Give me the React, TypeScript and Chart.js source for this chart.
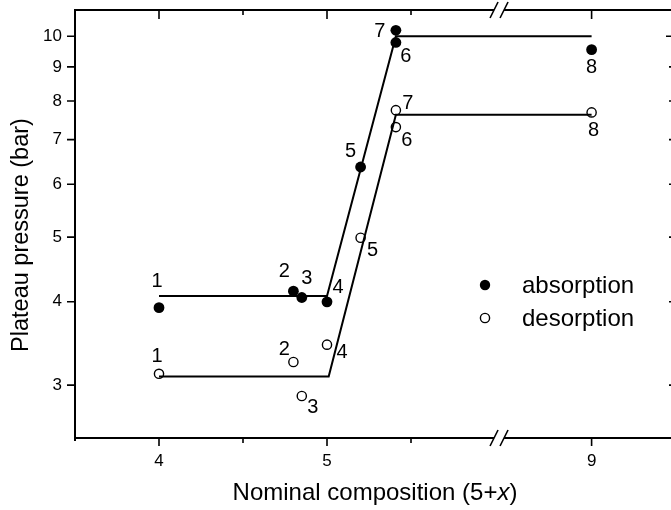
import React, { useEffect, useRef } from "react";
import { Chart, registerables } from "chart.js";

Chart.register(...registerables);

// ---------- data ----------
const SAMPLE_IDS = ["1", "2", "3", "4", "5", "6", "7", "8"];

const ABS_COMPOSITION = [4, 4.8, 4.85, 5.0, 5.2, 5.41, 5.41, 9];
const ABS_PRESSURE = [3.92, 4.15, 4.06, 4.0, 6.37, 9.79, 10.21, 9.55];

const DES_COMPOSITION = [4, 4.8, 4.85, 5.0, 5.2, 5.41, 5.41, 9];
const DES_PRESSURE = [3.12, 3.25, 2.89, 3.45, 4.99, 7.31, 7.75, 7.69];

const ABS_FIT_X = [4, 5.0, 5.41, 9];
const ABS_FIT_Y = [4.08, 4.08, 10.0, 10.0];
const DES_FIT_X = [4, 5.01, 5.41, 9];
const DES_FIT_Y = [3.09, 3.09, 7.63, 7.63];

const X_MAJOR_TICKS = [4, 5, 9];
const X_MINOR_TICKS = [4.5, 5.5];
const Y_TICKS = [3, 4, 5, 6, 7, 8, 9, 10];

const SERIES_LABELS = ["absorption", "desorption"];
const X_TITLE_PARTS = ["Nominal composition (5+", "x", ")"];
const Y_TITLE = "Plateau pressure (bar)";

// ---------- broken x axis ----------
const BREAK_LOW = 6.024; // real value at the break, left side
const BREAK_HIGH = 8.449; // real value at the break, right side
const SHIFT = BREAK_HIGH - BREAK_LOW;
const toAxis = (v: number) => (v >= BREAK_HIGH ? v - SHIFT : v);
const fromAxis = (v: number) => (v > BREAK_LOW + 1e-6 ? v + SHIFT : v);

// ---------- label layout (pixel offsets from each point) ----------
const ABS_LABEL_OFFSETS = [
  [-2, -26], [-9, -20], [5, -19], [11, -14], [-10, -15], [10, 14], [-16, 1], [0, 18],
];
const DES_LABEL_OFFSETS = [
  [-2, -17], [-9, -12], [11, 11], [15, 8], [12, 13], [11, 13], [12, -7], [2, 18],
];

const FONT = "'Liberation Sans', Arial, Helvetica, sans-serif";

const pts = (xs: number[], ys: number[]) => xs.map((x, i) => ({ x: toAxis(x), y: ys[i] }));

const decorPlugin = {
  id: "decor",
  afterDatasetsDraw(chart: any) {
    const { ctx } = chart;
    ctx.save();
    ctx.fillStyle = "#000";
    ctx.font = `20px ${FONT}`;
    ctx.textAlign = "center";
    ctx.textBaseline = "middle";
    const draw = (dsIndex: number, offsets: number[][]) => {
      const meta = chart.getDatasetMeta(dsIndex);
      meta.data.forEach((el: any, i: number) => {
        ctx.fillText(SAMPLE_IDS[i], el.x + offsets[i][0], el.y + offsets[i][1]);
      });
    };
    draw(2, ABS_LABEL_OFFSETS);
    draw(3, DES_LABEL_OFFSETS);
    ctx.restore();
  },
  afterDraw(chart: any) {
    const { ctx, chartArea: a, scales } = chart;
    const x = scales.x;
    const y = scales.y;
    ctx.save();
    ctx.strokeStyle = "#000";
    ctx.lineWidth = 2;
    // frame
    ctx.beginPath();
    ctx.moveTo(a.left - 1, a.top);
    ctx.lineTo(a.right, a.top);
    ctx.moveTo(a.left - 1, a.bottom);
    ctx.lineTo(a.right, a.bottom);
    ctx.moveTo(a.left, a.top);
    ctx.lineTo(a.left, a.bottom + 3);
    ctx.moveTo(a.right, a.top);
    ctx.lineTo(a.right, a.bottom);
    ctx.stroke();

    // ticks
    ctx.lineWidth = 1.6;
    ctx.beginPath();
    Y_TICKS.forEach((v) => {
      const py = y.getPixelForValue(v);
      ctx.moveTo(a.left - 8, py);
      ctx.lineTo(a.left, py);
      const len = v === 10 ? 9 : 6;
      ctx.moveTo(a.right - len, py);
      ctx.lineTo(a.right, py);
    });
    X_MAJOR_TICKS.forEach((v) => {
      const px = x.getPixelForValue(toAxis(v));
      ctx.moveTo(px, a.bottom);
      ctx.lineTo(px, a.bottom + 8);
      ctx.moveTo(px, a.top);
      ctx.lineTo(px, a.top + 9);
    });
    X_MINOR_TICKS.forEach((v) => {
      const px = x.getPixelForValue(toAxis(v));
      ctx.moveTo(px, a.bottom);
      ctx.lineTo(px, a.bottom + 5);
      ctx.moveTo(px, a.top);
      ctx.lineTo(px, a.top + 5);
    });
    ctx.stroke();

    // axis breaks
    const xb = x.getPixelForValue(BREAK_LOW);
    [a.top, a.bottom].forEach((yy: number) => {
      ctx.fillStyle = "#fff";
      ctx.fillRect(xb - 5, yy - 2, 10, 4);
      ctx.beginPath();
      [xb - 5, xb + 5].forEach((c) => {
        ctx.moveTo(c - 4, yy + 8);
        ctx.lineTo(c + 4, yy - 8);
      });
      ctx.stroke();
    });

    // legend
    const lx = 485;
    const rows = [
      { y: 285, filled: true, r: 5.2 },
      { y: 318, filled: false, r: 4.6 },
    ];
    ctx.font = `24px ${FONT}`;
    ctx.textAlign = "left";
    ctx.textBaseline = "middle";
    rows.forEach((row, i) => {
      ctx.beginPath();
      ctx.arc(lx, row.y, row.r, 0, Math.PI * 2);
      if (row.filled) {
        ctx.fillStyle = "#000";
        ctx.fill();
      } else {
        ctx.fillStyle = "#fff";
        ctx.fill();
        ctx.lineWidth = 1.4;
        ctx.stroke();
      }
      ctx.fillStyle = "#000";
      ctx.fillText(chart.data.datasets[i + 2].label, 522, row.y + 1);
    });

    // x title with italic x
    ctx.textBaseline = "middle";
    const normal = `24px ${FONT}`;
    const italic = `italic 24px ${FONT}`;
    ctx.font = normal;
    const w0 = ctx.measureText(X_TITLE_PARTS[0]).width;
    const w2 = ctx.measureText(X_TITLE_PARTS[2]).width;
    ctx.font = italic;
    const w1 = ctx.measureText(X_TITLE_PARTS[1]).width;
    const total = w0 + w1 + w2;
    let tx = (a.left + a.right) / 2 - total / 2;
    const ty = 493;
    ctx.font = normal;
    ctx.fillText(X_TITLE_PARTS[0], tx, ty);
    tx += w0;
    ctx.font = italic;
    ctx.fillText(X_TITLE_PARTS[1], tx, ty);
    tx += w1;
    ctx.font = normal;
    ctx.fillText(X_TITLE_PARTS[2], tx, ty);

    // y title
    ctx.save();
    ctx.translate(22, 235);
    ctx.rotate(-Math.PI / 2);
    ctx.textAlign = "center";
    ctx.font = `23.5px ${FONT}`;
    ctx.fillText(Y_TITLE, 0, 0);
    ctx.restore();

    ctx.restore();
  },
};

export default function App() {
  const ref = useRef<HTMLCanvasElement>(null);
  useEffect(() => {
    document.body.style.margin = "0";
    document.body.style.overflow = "hidden";
    const chart = new Chart(ref.current as HTMLCanvasElement, {
      type: "scatter",
      data: {
        datasets: [
          {
            label: "absorption fit",
            data: pts(ABS_FIT_X, ABS_FIT_Y),
            showLine: true,
            borderColor: "#000",
            borderWidth: 2,
            pointRadius: 0,
            fill: false,
          },
          {
            label: "desorption fit",
            data: pts(DES_FIT_X, DES_FIT_Y),
            showLine: true,
            borderColor: "#000",
            borderWidth: 2,
            pointRadius: 0,
            fill: false,
          },
          {
            label: SERIES_LABELS[0],
            data: pts(ABS_COMPOSITION, ABS_PRESSURE),
            pointRadius: 5.4,
            pointBackgroundColor: "#000",
            pointBorderColor: "#000",
            pointBorderWidth: 0,
            showLine: false,
          },
          {
            label: SERIES_LABELS[1],
            data: pts(DES_COMPOSITION, DES_PRESSURE),
            pointRadius: 4.6,
            pointBackgroundColor: "#fff",
            pointBorderColor: "#000",
            pointBorderWidth: 1.4,
            showLine: false,
          },
        ],
      },
      options: {
        animation: false,
        responsive: false,
        maintainAspectRatio: false,
        layout: { padding: { top: 10, right: 15, bottom: 0, left: 0 } },
        plugins: {
          legend: { display: false },
          tooltip: { enabled: false },
        },
        scales: {
          x: {
            type: "linear",
            min: 3.5,
            max: 7.0714,
            afterFit: (s: any) => {
              s.height = 72;
              s.paddingLeft = 0;
              s.paddingRight = 0;
            },
            afterBuildTicks: (s: any) => {
              s.ticks = X_MAJOR_TICKS.map((v) => ({ value: toAxis(v) }));
            },
            ticks: {
              autoSkip: false,
              maxRotation: 0,
              padding: 13,
              color: "#000",
              font: { family: FONT, size: 17 },
              callback: (v: any) => String(Math.round(fromAxis(Number(v)) * 10) / 10),
            },
            grid: { display: false, drawTicks: false },
            border: { display: false },
          },
          y: {
            type: "logarithmic",
            min: 2.5,
            max: 10.95,
            afterFit: (s: any) => {
              s.width = 75;
              s.paddingTop = 0;
              s.paddingBottom = 0;
            },
            afterBuildTicks: (s: any) => {
              s.ticks = Y_TICKS.map((v) => ({ value: v }));
            },
            ticks: {
              autoSkip: false,
              padding: 13,
              color: "#000",
              font: { family: FONT, size: 17 },
              callback: (v: any) => String(v),
            },
            grid: { display: false, drawTicks: false },
            border: { display: false },
          },
        },
      },
      plugins: [decorPlugin],
    } as any);
    return () => chart.destroy();
  }, []);
  return (
    <div style={{ width: 671, height: 510, overflow: "hidden", position: "relative", background: "#fff" }}>
      <canvas ref={ref} width={690} height={510} style={{ display: "block", width: 690, height: 510 }} />
    </div>
  );
}
